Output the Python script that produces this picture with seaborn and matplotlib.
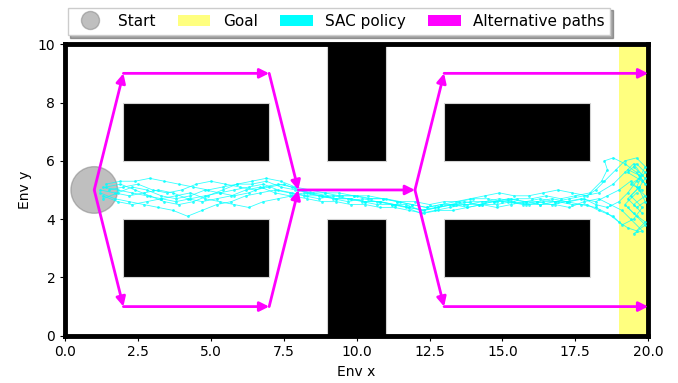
import pandas as pd
import matplotlib.pyplot as plt
import seaborn as sns
from matplotlib.patches import Rectangle, Circle, Patch
from matplotlib.lines import Line2D

# Environment layout
obstacles = [(2, 6, 5, 2), (2, 2, 5, 2), (13, 6, 5, 2), (13, 2, 5, 2), (9, 6, 2, 4), (9, 0, 2, 4)]
goal_x = (19, 20)
start = (1, 5)
start_radius = 0.8

# Alternative paths (waypoints)
alt_paths = [
    [(1, 5), (2, 9), (7, 9), (8, 5)],
    [(1, 5), (2, 1), (7, 1), (8, 5)],
    [(8, 5), (12, 5)],
    [(12, 5), (13, 9), (20, 9)],
    [(12, 5), (13, 1), (20, 1)],
]

# SAC policy rollouts
traj1_x = [1.3, 1.8, 2.3, 2.8, 3.3, 3.8, 4.3, 4.8, 5.3, 5.8, 6.3, 6.8, 7.3, 7.8, 8.3, 8.8, 9.3, 9.8, 10.3, 10.8,
           11.3, 11.8, 12.3, 12.8, 13.3, 13.8, 14.3, 14.8, 15.3, 15.8, 16.3, 16.8, 17.3, 17.8, 18.3, 18.8, 19.2, 19.5,
           19.8, 19.6, 19.9, 19.5, 19.8]
traj1_y = [5.1, 5.0, 4.9, 4.8, 4.7, 4.6, 4.7, 4.8, 4.9, 5.0, 5.1, 5.2, 5.0, 4.9, 4.8, 4.8, 4.7, 4.7, 4.6, 4.6,
           4.5, 4.4, 4.3, 4.4, 4.5, 4.5, 4.6, 4.6, 4.7, 4.6, 4.7, 4.6, 4.7, 4.8, 4.9, 5.2, 5.6, 5.9, 5.5, 5.1, 4.8,
           4.5, 4.2]
traj2_x = [1.2, 1.7, 2.2, 2.7, 3.2, 3.7, 4.2, 4.7, 5.2, 5.7, 6.2, 6.7, 7.2, 7.7, 8.2, 8.7, 9.2, 9.7, 10.2, 10.7,
           11.2, 11.7, 12.2, 12.7, 13.2, 13.7, 14.2, 14.7, 15.2, 15.7, 16.2, 16.7, 17.2, 17.7, 18.2, 18.6, 19.0, 19.3,
           19.6, 19.9, 19.5, 19.2, 19.6]
traj2_y = [4.9, 4.7, 4.6, 4.5, 4.4, 4.3, 4.1, 4.3, 4.5, 4.6, 4.8, 4.9, 5.0, 4.9, 4.8, 4.7, 4.8, 4.7, 4.6, 4.5,
           4.5, 4.4, 4.2, 4.3, 4.4, 4.5, 4.5, 4.6, 4.6, 4.5, 4.6, 4.7, 4.6, 4.5, 4.4, 4.2, 3.9, 3.7, 3.6, 3.9, 4.2,
           4.5, 4.9]
traj3_x = [1.4, 1.9, 2.4, 2.9, 3.4, 3.9, 4.4, 4.9, 5.4, 5.9, 6.4, 6.9, 7.4, 7.9, 8.4, 8.9, 9.4, 9.9, 10.4, 10.9,
           11.4, 11.9, 12.4, 12.9, 13.4, 13.9, 14.4, 14.9, 15.4, 15.9, 16.4, 16.9, 17.4, 17.9, 18.2, 18.5, 18.9, 19.2,
           19.6, 19.9, 19.7, 19.4, 19.8]
traj3_y = [5.2, 5.3, 5.3, 5.4, 5.3, 5.2, 5.1, 5.0, 5.1, 5.2, 5.3, 5.4, 5.3, 5.1, 5.0, 4.9, 4.9, 4.8, 4.8, 4.7,
           4.6, 4.5, 4.4, 4.5, 4.6, 4.7, 4.8, 4.9, 4.8, 4.8, 4.9, 5.0, 4.9, 4.8, 5.0, 5.3, 5.7, 6.0, 6.1, 5.8, 5.4,
           5.2, 5.0]
traj4_x = [1.3, 1.8, 2.3, 2.8, 3.3, 3.8, 4.3, 4.8, 5.3, 5.8, 6.3, 6.8, 7.3, 7.8, 8.3, 8.8, 9.3, 9.8, 10.3, 10.8,
           11.3, 11.8, 12.3, 12.8, 13.3, 13.8, 14.3, 14.8, 15.3, 15.8, 16.3, 16.8, 17.3, 17.8, 18.3, 18.7, 19.1, 19.4,
           19.8, 19.5, 19.9, 19.6, 19.3]
traj4_y = [4.8, 4.6, 4.5, 4.6, 4.7, 4.8, 4.9, 4.7, 4.6, 4.5, 4.4, 4.6, 4.7, 4.8, 4.7, 4.6, 4.6, 4.5, 4.5, 4.4,
           4.4, 4.3, 4.2, 4.3, 4.3, 4.4, 4.5, 4.4, 4.5, 4.6, 4.5, 4.5, 4.4, 4.6, 4.7, 4.5, 4.3, 4.0, 3.6, 3.5, 3.8,
           4.1, 4.4]
traj5_x = [1.5, 2.0, 2.5, 3.0, 3.5, 4.0, 4.5, 5.0, 5.5, 6.0, 6.5, 7.0, 7.5, 8.0, 8.5, 9.0, 9.5, 10.0, 10.5, 11.0,
           11.5, 12.0, 12.5, 13.0, 13.5, 14.0, 14.5, 15.0, 15.5, 16.0, 16.5, 17.0, 17.5, 18.0, 18.4, 18.6, 18.5, 18.8,
           19.2, 19.6, 19.9, 19.7, 19.3]
traj5_y = [5.0, 5.1, 5.2, 5.0, 4.9, 5.0, 5.2, 5.3, 5.2, 5.1, 5.0, 5.1, 5.2, 5.0, 4.9, 4.8, 4.8, 4.8, 4.7, 4.7,
           4.6, 4.6, 4.5, 4.6, 4.6, 4.7, 4.7, 4.6, 4.7, 4.7, 4.8, 4.7, 4.8, 4.9, 5.3, 5.7, 6.0, 6.1, 5.9, 5.6, 5.2,
           5.5, 5.7]
traj6_x = [1.2, 1.7, 2.2, 2.7, 3.2, 3.7, 4.2, 4.7, 5.2, 5.7, 6.2, 6.7, 7.2, 7.7, 8.2, 8.7, 9.2, 9.7, 10.2, 10.7,
           11.2, 11.7, 12.2, 12.7, 13.2, 13.7, 14.2, 14.7, 15.2, 15.7, 16.2, 16.7, 17.2, 17.7, 18.2, 18.6, 19.0, 19.4,
           19.7, 19.9, 19.6, 19.3, 19.7]
traj6_y = [5.0, 4.9, 4.8, 4.9, 5.0, 4.9, 4.7, 4.6, 4.7, 4.8, 5.0, 5.1, 4.9, 4.8, 4.9, 4.8, 4.7, 4.6, 4.7, 4.6,
           4.5, 4.5, 4.3, 4.4, 4.5, 4.6, 4.5, 4.6, 4.7, 4.6, 4.6, 4.5, 4.6, 4.7, 4.6, 4.8, 5.0, 5.3, 5.0, 4.6, 4.4,
           4.7, 5.1]
traj7_x = [1.4, 1.9, 2.4, 2.9, 3.4, 3.9, 4.4, 4.9, 5.4, 5.9, 6.4, 6.9, 7.4, 7.9, 8.4, 8.9, 9.4, 9.9, 10.4, 10.9,
           11.4, 11.9, 12.4, 12.9, 13.4, 13.9, 14.4, 14.9, 15.4, 15.9, 16.4, 16.9, 17.4, 17.9, 18.3, 18.8, 19.1, 19.5,
           19.8, 19.4, 19.7, 19.9, 19.5]
traj7_y = [5.1, 5.2, 5.0, 4.8, 4.6, 4.5, 4.6, 4.8, 5.0, 5.2, 5.2, 5.3, 5.1, 5.0, 4.9, 4.9, 4.8, 4.8, 4.7, 4.7,
           4.6, 4.5, 4.4, 4.5, 4.5, 4.6, 4.6, 4.7, 4.6, 4.5, 4.6, 4.6, 4.5, 4.5, 4.3, 4.1, 3.8, 4.0, 4.4, 4.8, 5.1,
           5.4, 5.8]
traj8_x = [1.3, 1.8, 2.3, 2.8, 3.3, 3.8, 4.3, 4.8, 5.3, 5.8, 6.3, 6.8, 7.3, 7.8, 8.3, 8.8, 9.3, 9.8, 10.3, 10.8,
           11.3, 11.8, 12.3, 12.8, 13.3, 13.8, 14.3, 14.8, 15.3, 15.8, 16.3, 16.8, 17.3, 17.8, 18.2, 18.6, 19.0, 19.3,
           19.6, 19.9, 19.6, 19.3, 19.8]
traj8_y = [4.7, 4.9, 5.1, 5.0, 4.8, 4.7, 4.8, 5.0, 4.9, 4.8, 4.9, 5.1, 5.2, 5.1, 4.9, 4.8, 4.7, 4.7, 4.6, 4.6,
           4.5, 4.4, 4.3, 4.4, 4.5, 4.4, 4.5, 4.5, 4.6, 4.5, 4.5, 4.6, 4.6, 4.7, 4.5, 4.4, 4.6, 4.9, 5.3, 5.6, 5.9,
           5.6, 5.3]

trajs = [(traj1_x, traj1_y), (traj2_x, traj2_y), (traj3_x, traj3_y), (traj4_x, traj4_y),
         (traj5_x, traj5_y), (traj6_x, traj6_y), (traj7_x, traj7_y), (traj8_x, traj8_y)]

df = pd.concat([pd.DataFrame({'x': tx, 'y': ty, 'traj': i}) for i, (tx, ty) in enumerate(trajs)],
               ignore_index=True)

fig = plt.figure(figsize=(6.78, 3.83), dpi=100)
ax = fig.add_axes([0.096, 0.123, 0.86, 0.762])

# goal region
ax.axvspan(goal_x[0], goal_x[1], color='yellow', alpha=0.5, lw=0, zorder=0)

# obstacles
for (ox, oy, w, h) in obstacles:
    ax.add_patch(Rectangle((ox, oy), w, h, facecolor='black', edgecolor='lightgray', lw=0.8, zorder=1))

# start region
ax.add_patch(Circle(start, start_radius, facecolor='gray', edgecolor='gray', alpha=0.5, zorder=2))

# SAC trajectories
sns.lineplot(data=df, x='x', y='y', units='traj', estimator=None, sort=False,
             color='cyan', lw=0.6, alpha=0.8, marker='.', markersize=4, markeredgewidth=0,
             ax=ax, zorder=3, legend=False)

# alternative paths
for path in alt_paths:
    for (x0, y0), (x1, y1) in zip(path[:-1], path[1:]):
        ax.annotate('', xy=(x1, y1), xytext=(x0, y0),
                    arrowprops=dict(arrowstyle='-|>', color='magenta', lw=2, mutation_scale=14,
                                    shrinkA=0, shrinkB=0), zorder=4)

for side in ['left', 'right', 'top', 'bottom']:
    ax.spines[side].set_linewidth(3.5)
ax.set_xlim(0, 20)
ax.set_ylim(0, 10)
ax.set_aspect('equal', adjustable='box')
ax.set_xticks([0, 2.5, 5, 7.5, 10, 12.5, 15, 17.5, 20])
ax.set_xticklabels(['0.0', '2.5', '5.0', '7.5', '10.0', '12.5', '15.0', '17.5', '20.0'])
ax.set_yticks([0, 2, 4, 6, 8, 10])
ax.set_xlabel('Env x')
ax.set_ylabel('Env y')

handles = [
    Line2D([], [], marker='o', linestyle='none', markersize=13, markerfacecolor='gray',
           markeredgecolor='gray', alpha=0.5, label='Start'),
    Patch(facecolor='yellow', alpha=0.5, label='Goal'),
    Patch(facecolor='cyan', label='SAC policy'),
    Patch(facecolor='magenta', label='Alternative paths'),
]
fig.legend(handles=handles, loc='upper center', bbox_to_anchor=(0.5, 1.0), ncol=4,
           shadow=True, fancybox=False, fontsize=11, handlelength=2.1, handletextpad=0.8,
           columnspacing=1.5)

plt.savefig('out.png', dpi=100)
